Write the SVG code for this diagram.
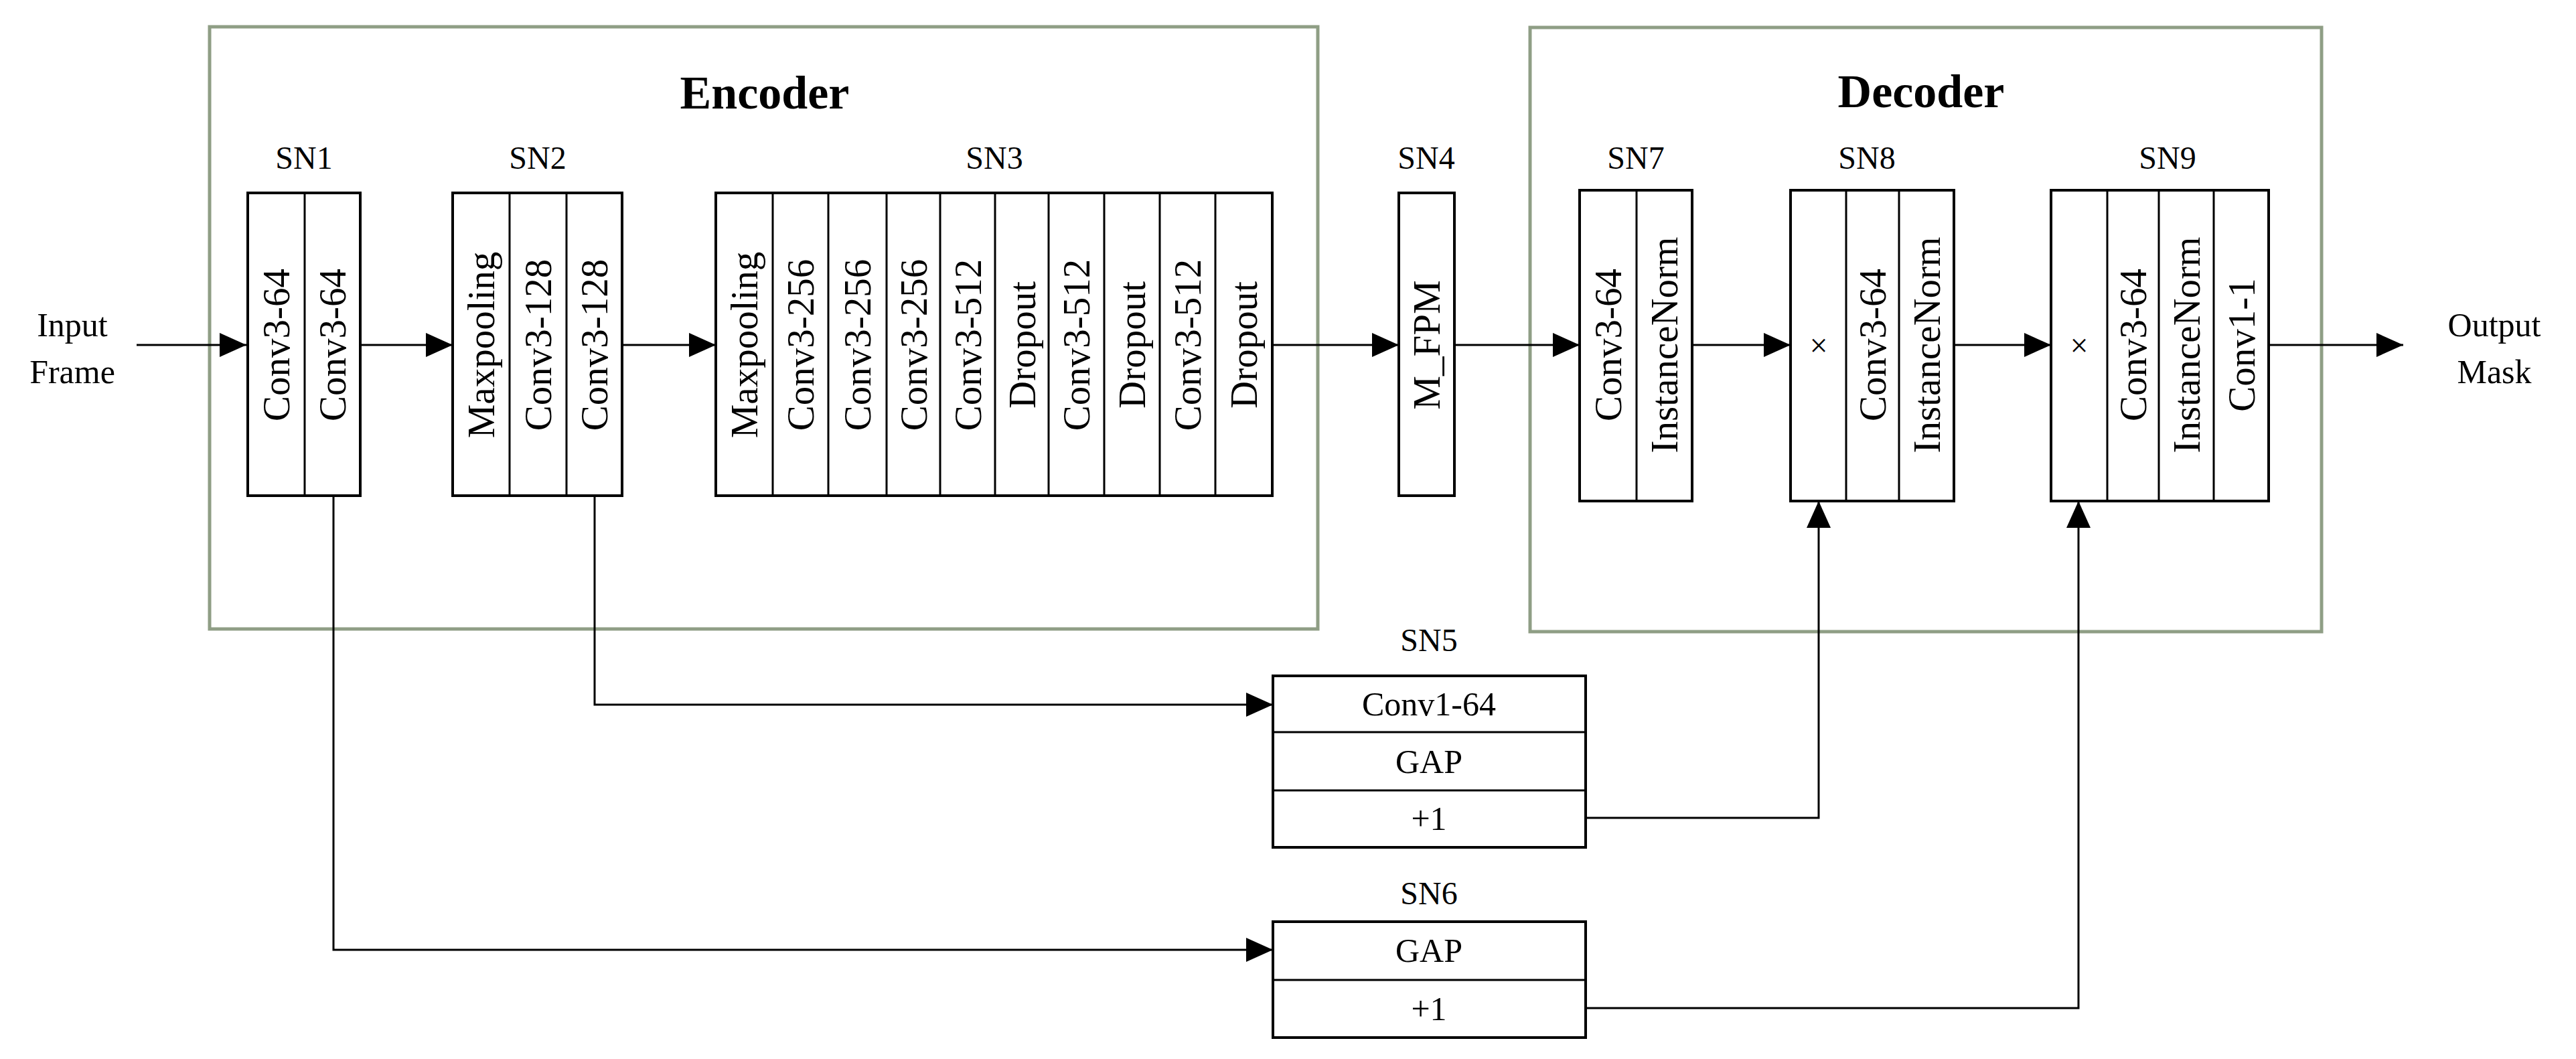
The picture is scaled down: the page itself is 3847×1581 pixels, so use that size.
<svg xmlns="http://www.w3.org/2000/svg" width="3847" height="1581" viewBox="0 0 3847 1581">
<style>
text{font-family:"Liberation Serif","Times New Roman",serif;fill:#000}
.lbl{font-size:48px;text-anchor:middle}
.v{font-size:57px;text-anchor:middle;dominant-baseline:central}
.h{font-size:50px;text-anchor:middle;dominant-baseline:central}
.t{font-size:70px;font-weight:bold;text-anchor:middle}
.blk{fill:#fff;stroke:#000;stroke-width:4}
.div{stroke:#000;stroke-width:3}
.grp{fill:none;stroke:#8f9e85;stroke-width:5}
.c{fill:none;stroke:#000;stroke-width:3}
</style>
<defs>
<marker id="ah" markerUnits="userSpaceOnUse" markerWidth="40" markerHeight="36" refX="40" refY="18" orient="auto">
<path d="M0,0 L40,18 L0,36 z" fill="#000"/>
</marker>
</defs>
<rect class="grp" x="313" y="40" width="1655" height="899"/>
<rect class="grp" x="2285" y="41" width="1182" height="902"/>
<text class="t" x="1142" y="162">Encoder</text>
<text class="t" x="2869" y="160">Decoder</text>

<g id="connectors">
<path class="c" d="M204,515 H368" marker-end="url(#ah)"/>
<path class="c" d="M538,515 H676" marker-end="url(#ah)"/>
<path class="c" d="M929,515 H1069" marker-end="url(#ah)"/>
<path class="c" d="M1900,515 H2089" marker-end="url(#ah)"/>
<path class="c" d="M2172,515 H2359" marker-end="url(#ah)"/>
<path class="c" d="M2527,515 H2674" marker-end="url(#ah)"/>
<path class="c" d="M2918,515 H3063" marker-end="url(#ah)"/>
<path class="c" d="M3388,515 H3589" marker-end="url(#ah)"/>
<path class="c" d="M888,740 V1052 H1901" marker-end="url(#ah)"/>
<path class="c" d="M498,740 V1418 H1901" marker-end="url(#ah)"/>
<path class="c" d="M2368,1221 H2716 V748" marker-end="url(#ah)"/>
<path class="c" d="M2368,1505 H3104 V748" marker-end="url(#ah)"/>
</g>

<text class="h" x="108" y="485">Input</text>
<text class="h" x="108" y="555">Frame</text>
<text class="h" x="3725" y="485">Output</text>
<text class="h" x="3725" y="555">Mask</text>

<g id="SN1">
<text class="lbl" x="454" y="252">SN1</text>
<rect class="blk" x="370" y="288" width="168" height="452"/>
<line class="div" x1="455" y1="288" x2="455" y2="740"/>
<text class="v" transform="translate(412,515) rotate(-90)">Conv3-64</text>
<text class="v" transform="translate(496,515) rotate(-90)">Conv3-64</text>
</g>

<g id="SN2">
<text class="lbl" x="803" y="252">SN2</text>
<rect class="blk" x="676" y="288" width="253" height="452"/>
<line class="div" x1="761" y1="288" x2="761" y2="740"/>
<line class="div" x1="846" y1="288" x2="846" y2="740"/>
<text class="v" transform="translate(718,515) rotate(-90)">Maxpooling</text>
<text class="v" transform="translate(803,515) rotate(-90)">Conv3-128</text>
<text class="v" transform="translate(887,515) rotate(-90)">Conv3-128</text>
</g>

<g id="SN3">
<text class="lbl" x="1485" y="252">SN3</text>
<rect class="blk" x="1069" y="288" width="831" height="452"/>
<line class="div" x1="1154" y1="288" x2="1154" y2="740"/>
<line class="div" x1="1237" y1="288" x2="1237" y2="740"/>
<line class="div" x1="1324" y1="288" x2="1324" y2="740"/>
<line class="div" x1="1404" y1="288" x2="1404" y2="740"/>
<line class="div" x1="1486" y1="288" x2="1486" y2="740"/>
<line class="div" x1="1566" y1="288" x2="1566" y2="740"/>
<line class="div" x1="1649" y1="288" x2="1649" y2="740"/>
<line class="div" x1="1732" y1="288" x2="1732" y2="740"/>
<line class="div" x1="1815" y1="288" x2="1815" y2="740"/>
<text class="v" transform="translate(1111,515) rotate(-90)">Maxpooling</text>
<text class="v" transform="translate(1195,515) rotate(-90)">Conv3-256</text>
<text class="v" transform="translate(1280,515) rotate(-90)">Conv3-256</text>
<text class="v" transform="translate(1364,515) rotate(-90)">Conv3-256</text>
<text class="v" transform="translate(1445,515) rotate(-90)">Conv3-512</text>
<text class="v" transform="translate(1526,515) rotate(-90)">Dropout</text>
<text class="v" transform="translate(1607,515) rotate(-90)">Conv3-512</text>
<text class="v" transform="translate(1690,515) rotate(-90)">Dropout</text>
<text class="v" transform="translate(1773,515) rotate(-90)">Conv3-512</text>
<text class="v" transform="translate(1857,515) rotate(-90)">Dropout</text>
</g>

<g id="SN4">
<text class="lbl" x="2130" y="252">SN4</text>
<rect class="blk" x="2089" y="288" width="83" height="452"/>
<text class="v" transform="translate(2130,515) rotate(-90)">M_FPM</text>
</g>

<g id="SN7">
<text class="lbl" x="2443" y="252">SN7</text>
<rect class="blk" x="2359" y="284" width="168" height="464"/>
<line class="div" x1="2444" y1="284" x2="2444" y2="748"/>
<text class="v" transform="translate(2401,515) rotate(-90)">Conv3-64</text>
<text class="v" transform="translate(2485,515) rotate(-90)">InstanceNorm</text>
</g>

<g id="SN8">
<text class="lbl" x="2788" y="252">SN8</text>
<rect class="blk" x="2674" y="284" width="244" height="464"/>
<line class="div" x1="2757" y1="284" x2="2757" y2="748"/>
<line class="div" x1="2836" y1="284" x2="2836" y2="748"/>
<text class="h" x="2716" y="515" style="font-size:48px">×</text>
<text class="v" transform="translate(2796,515) rotate(-90)">Conv3-64</text>
<text class="v" transform="translate(2877,515) rotate(-90)">InstanceNorm</text>
</g>

<g id="SN9">
<text class="lbl" x="3237" y="252">SN9</text>
<rect class="blk" x="3063" y="284" width="325" height="464"/>
<line class="div" x1="3147" y1="284" x2="3147" y2="748"/>
<line class="div" x1="3224" y1="284" x2="3224" y2="748"/>
<line class="div" x1="3306" y1="284" x2="3306" y2="748"/>
<text class="h" x="3105" y="515" style="font-size:48px">×</text>
<text class="v" transform="translate(3185,515) rotate(-90)">Conv3-64</text>
<text class="v" transform="translate(3265,515) rotate(-90)">InstanceNorm</text>
<text class="v" transform="translate(3347,515) rotate(-90)">Conv1-1</text>
</g>

<g id="SN5">
<text class="lbl" x="2134" y="972">SN5</text>
<rect class="blk" x="1901" y="1009" width="467" height="256"/>
<line class="div" x1="1901" y1="1093" x2="2368" y2="1093"/>
<line class="div" x1="1901" y1="1180" x2="2368" y2="1180"/>
<text class="h" x="2134" y="1051">Conv1-64</text>
<text class="h" x="2134" y="1137">GAP</text>
<text class="h" x="2134" y="1222">+1</text>
</g>

<g id="SN6">
<text class="lbl" x="2134" y="1350">SN6</text>
<rect class="blk" x="1901" y="1376" width="467" height="173"/>
<line class="div" x1="1901" y1="1463" x2="2368" y2="1463"/>
<text class="h" x="2134" y="1419">GAP</text>
<text class="h" x="2134" y="1506">+1</text>
</g>
</svg>
